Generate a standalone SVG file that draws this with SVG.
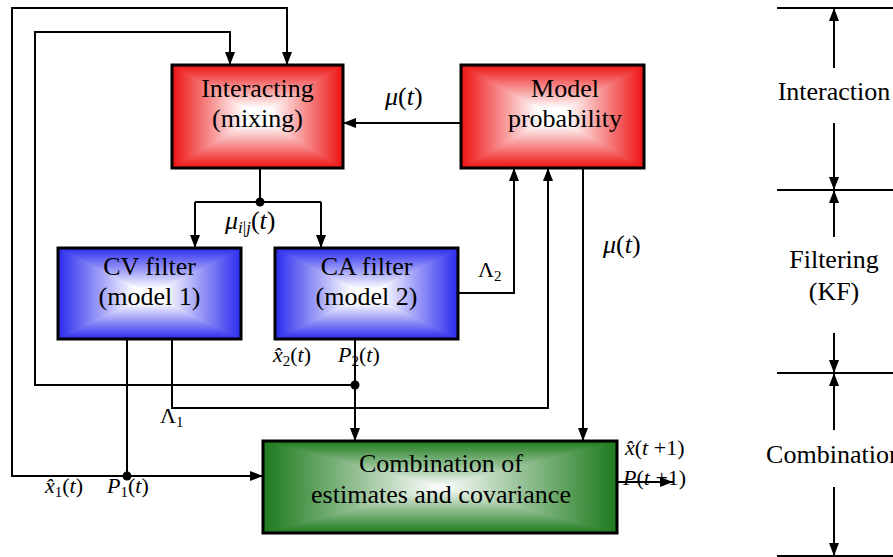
<svg xmlns="http://www.w3.org/2000/svg" width="893" height="557" viewBox="0 0 893 557" font-family="'Liberation Serif', 'Times New Roman', serif">
<style>
  .box { fill: none; stroke: #000; stroke-width: 3; }
  .ln { fill: none; stroke: #000; stroke-width: 2; }
  .arr { marker-end: url(#ah); }
  .lbl { font-family: "Liberation Serif", "Times New Roman", serif; font-size: 26px; fill: #000; text-anchor: middle; }
  .m { font-family: "Liberation Serif", "Times New Roman", serif; font-size: 22px; fill: #000; }
  .mu { font-size: 26px; }
  .i { font-style: italic; }
  .sub { font-size: 15px; }
  .sub2 { font-size: 17px; }
</style>
<defs>
  <marker id="ah" viewBox="0 0 13 10" refX="13" refY="5" markerWidth="13" markerHeight="10" markerUnits="userSpaceOnUse" orient="auto">
    <path d="M0,0 L13,5 L0,10 Z" fill="#000"/>
  </marker>
  <linearGradient id="rV" x1="0" y1="0" x2="0" y2="1"><stop offset="0" stop-color="#ee1111"/><stop offset="0.42" stop-color="#fff"/><stop offset="0.58" stop-color="#fff"/><stop offset="1" stop-color="#ee1111"/></linearGradient>
  <linearGradient id="rH" x1="0" y1="0" x2="1" y2="0"><stop offset="0" stop-color="#ee1111"/><stop offset="0.42" stop-color="#fff"/><stop offset="0.58" stop-color="#fff"/><stop offset="1" stop-color="#ee1111"/></linearGradient>
  <linearGradient id="bV" x1="0" y1="0" x2="0" y2="1"><stop offset="0" stop-color="#2a2aee"/><stop offset="0.45" stop-color="#fff"/><stop offset="0.6" stop-color="#fff"/><stop offset="1" stop-color="#2a2aee"/></linearGradient>
  <linearGradient id="bH" x1="0" y1="0" x2="1" y2="0"><stop offset="0" stop-color="#2a2aee"/><stop offset="0.42" stop-color="#fff"/><stop offset="0.58" stop-color="#fff"/><stop offset="1" stop-color="#2a2aee"/></linearGradient>
  <linearGradient id="gV" x1="0" y1="0" x2="0" y2="1"><stop offset="0" stop-color="#1c7a1c"/><stop offset="0.5" stop-color="#fff"/><stop offset="1" stop-color="#1c7a1c"/></linearGradient>
  <linearGradient id="gH" x1="0" y1="0" x2="1" y2="0"><stop offset="0" stop-color="#1c7a1c"/><stop offset="0.5" stop-color="#fff"/><stop offset="1" stop-color="#1c7a1c"/></linearGradient>
</defs>
<rect width="893" height="557" fill="#fff"/>

<g id="connectors">
  <path class="ln" d="M127,339 V476"/>
  <path class="ln arr" d="M127,476 H12 V8 H287 V65"/>
  <path class="ln arr" d="M127,476 H263"/>
  <path class="ln" d="M355,339 V385"/>
  <path class="ln arr" d="M355,385 H35 V32 H230 V65"/>
  <path class="ln arr" d="M355,385 V441"/>
  <path class="ln arr" d="M172,339 V408 H548 V168"/>
  <path class="ln arr" d="M458,293 H514 V168"/>
  <path class="ln arr" d="M583,168 V441"/>
  <path class="ln arr" d="M461,123 H343"/>
  <path class="ln" d="M260,168 V202 M195,202 H321"/>
  <path class="ln arr" d="M195,202 V248"/>
  <path class="ln arr" d="M321,202 V248"/>
  <path class="ln arr" d="M617,482 H673"/>
  <circle cx="260" cy="202" r="4.5"/>
  <circle cx="355" cy="385" r="4.5"/>
  <circle cx="127" cy="476" r="4.5"/>
</g>

<g id="interacting">
  <rect fill="url(#rH)" x="172" y="65" width="171" height="103"/>
  <path fill="url(#rV)" d="M172,65 L343,65 L257.5,116.5 Z M172,168 L343,168 L257.5,116.5 Z"/>
  <rect class="box" x="172" y="65" width="171" height="103"/>
  <text class="lbl" x="257.5" y="97">Interacting</text>
  <text class="lbl" x="257.5" y="127">(mixing)</text>
</g>

<g id="model-probability">
  <rect fill="url(#rH)" x="461" y="65" width="183" height="103"/>
  <path fill="url(#rV)" d="M461,65 L644,65 L552.5,116.5 Z M461,168 L644,168 L552.5,116.5 Z"/>
  <rect class="box" x="461" y="65" width="183" height="103"/>
  <text class="lbl" x="565" y="97">Model</text>
  <text class="lbl" x="565" y="127">probability</text>
</g>

<g id="cv-filter">
  <rect fill="url(#bH)" x="58" y="248" width="183" height="91"/>
  <path fill="url(#bV)" d="M58,248 L241,248 L149.5,293.5 Z M58,339 L241,339 L149.5,293.5 Z"/>
  <rect class="box" x="58" y="248" width="183" height="91"/>
  <text class="lbl" x="149.5" y="275">CV filter</text>
  <text class="lbl" x="149.5" y="305">(model 1)</text>
</g>

<g id="ca-filter">
  <rect fill="url(#bH)" x="275" y="248" width="183" height="91"/>
  <path fill="url(#bV)" d="M275,248 L458,248 L366.5,293.5 Z M275,339 L458,339 L366.5,293.5 Z"/>
  <rect class="box" x="275" y="248" width="183" height="91"/>
  <text class="lbl" x="366.5" y="275">CA filter</text>
  <text class="lbl" x="366.5" y="305">(model 2)</text>
</g>

<g id="combination">
  <rect fill="url(#gH)" x="263" y="441" width="354" height="92"/>
  <path fill="url(#gV)" d="M263,441 L617,441 L440,487 Z M263,533 L617,533 L440,487 Z"/>
  <rect class="box" x="263" y="441" width="354" height="92"/>
  <text class="lbl" x="441" y="472">Combination of</text>
  <text class="lbl" x="441" y="503">estimates and covariance</text>
</g>

<g id="labels">
  <text class="m mu" x="385" y="105"><tspan class="i">μ</tspan>(<tspan class="i">t</tspan>)</text>
  <text class="m mu" x="603" y="253"><tspan class="i">μ</tspan>(<tspan class="i">t</tspan>)</text>
  <text class="m mu" x="225" y="229"><tspan class="i">μ</tspan><tspan class="sub2" dy="4"><tspan class="i">i</tspan>|<tspan class="i">j</tspan></tspan><tspan dy="-4">(</tspan><tspan class="i">t</tspan>)</text>
  <text class="m" x="478" y="277">Λ<tspan class="sub" dy="4">2</tspan></text>
  <text class="m" x="160" y="423">Λ<tspan class="sub" dy="4">1</tspan></text>
  <text class="m" x="273" y="362"><tspan class="i">x&#x302;</tspan><tspan class="sub" dy="4">2</tspan><tspan dy="-4">(</tspan><tspan class="i">t</tspan>)</text>
  <text class="m" x="338" y="362"><tspan class="i">P</tspan><tspan class="sub" dy="4">2</tspan><tspan dy="-4">(</tspan><tspan class="i">t</tspan>)</text>
  <text class="m" x="45" y="493"><tspan class="i">x&#x302;</tspan><tspan class="sub" dy="4">1</tspan><tspan dy="-4">(</tspan><tspan class="i">t</tspan>)</text>
  <text class="m" x="107" y="493"><tspan class="i">P</tspan><tspan class="sub" dy="4">1</tspan><tspan dy="-4">(</tspan><tspan class="i">t</tspan>)</text>
  <text class="m" x="625" y="455"><tspan class="i">x&#x302;</tspan>(<tspan class="i">t</tspan> +1)</text>
  <text class="m" x="623" y="485"><tspan class="i">P</tspan>(<tspan class="i">t</tspan> +1)</text>
</g>

<g id="stages">
  <path class="ln" d="M777,8 H893 M777,190 H893 M777,373 H893 M777,556 H893"/>
  <path class="ln arr" d="M834,68 V8"/>
  <path class="ln arr" d="M834,123 V190"/>
  <path class="ln arr" d="M834,237 V190"/>
  <path class="ln arr" d="M834,333 V373"/>
  <path class="ln arr" d="M834,430 V373"/>
  <path class="ln arr" d="M834,487 V556"/>
  <text class="lbl" x="834" y="100">Interaction</text>
  <text class="lbl" x="834" y="268">Filtering</text>
  <text class="lbl" x="834" y="300">(KF)</text>
  <text class="lbl" x="834" y="463">Combination</text>
</g>
</svg>
